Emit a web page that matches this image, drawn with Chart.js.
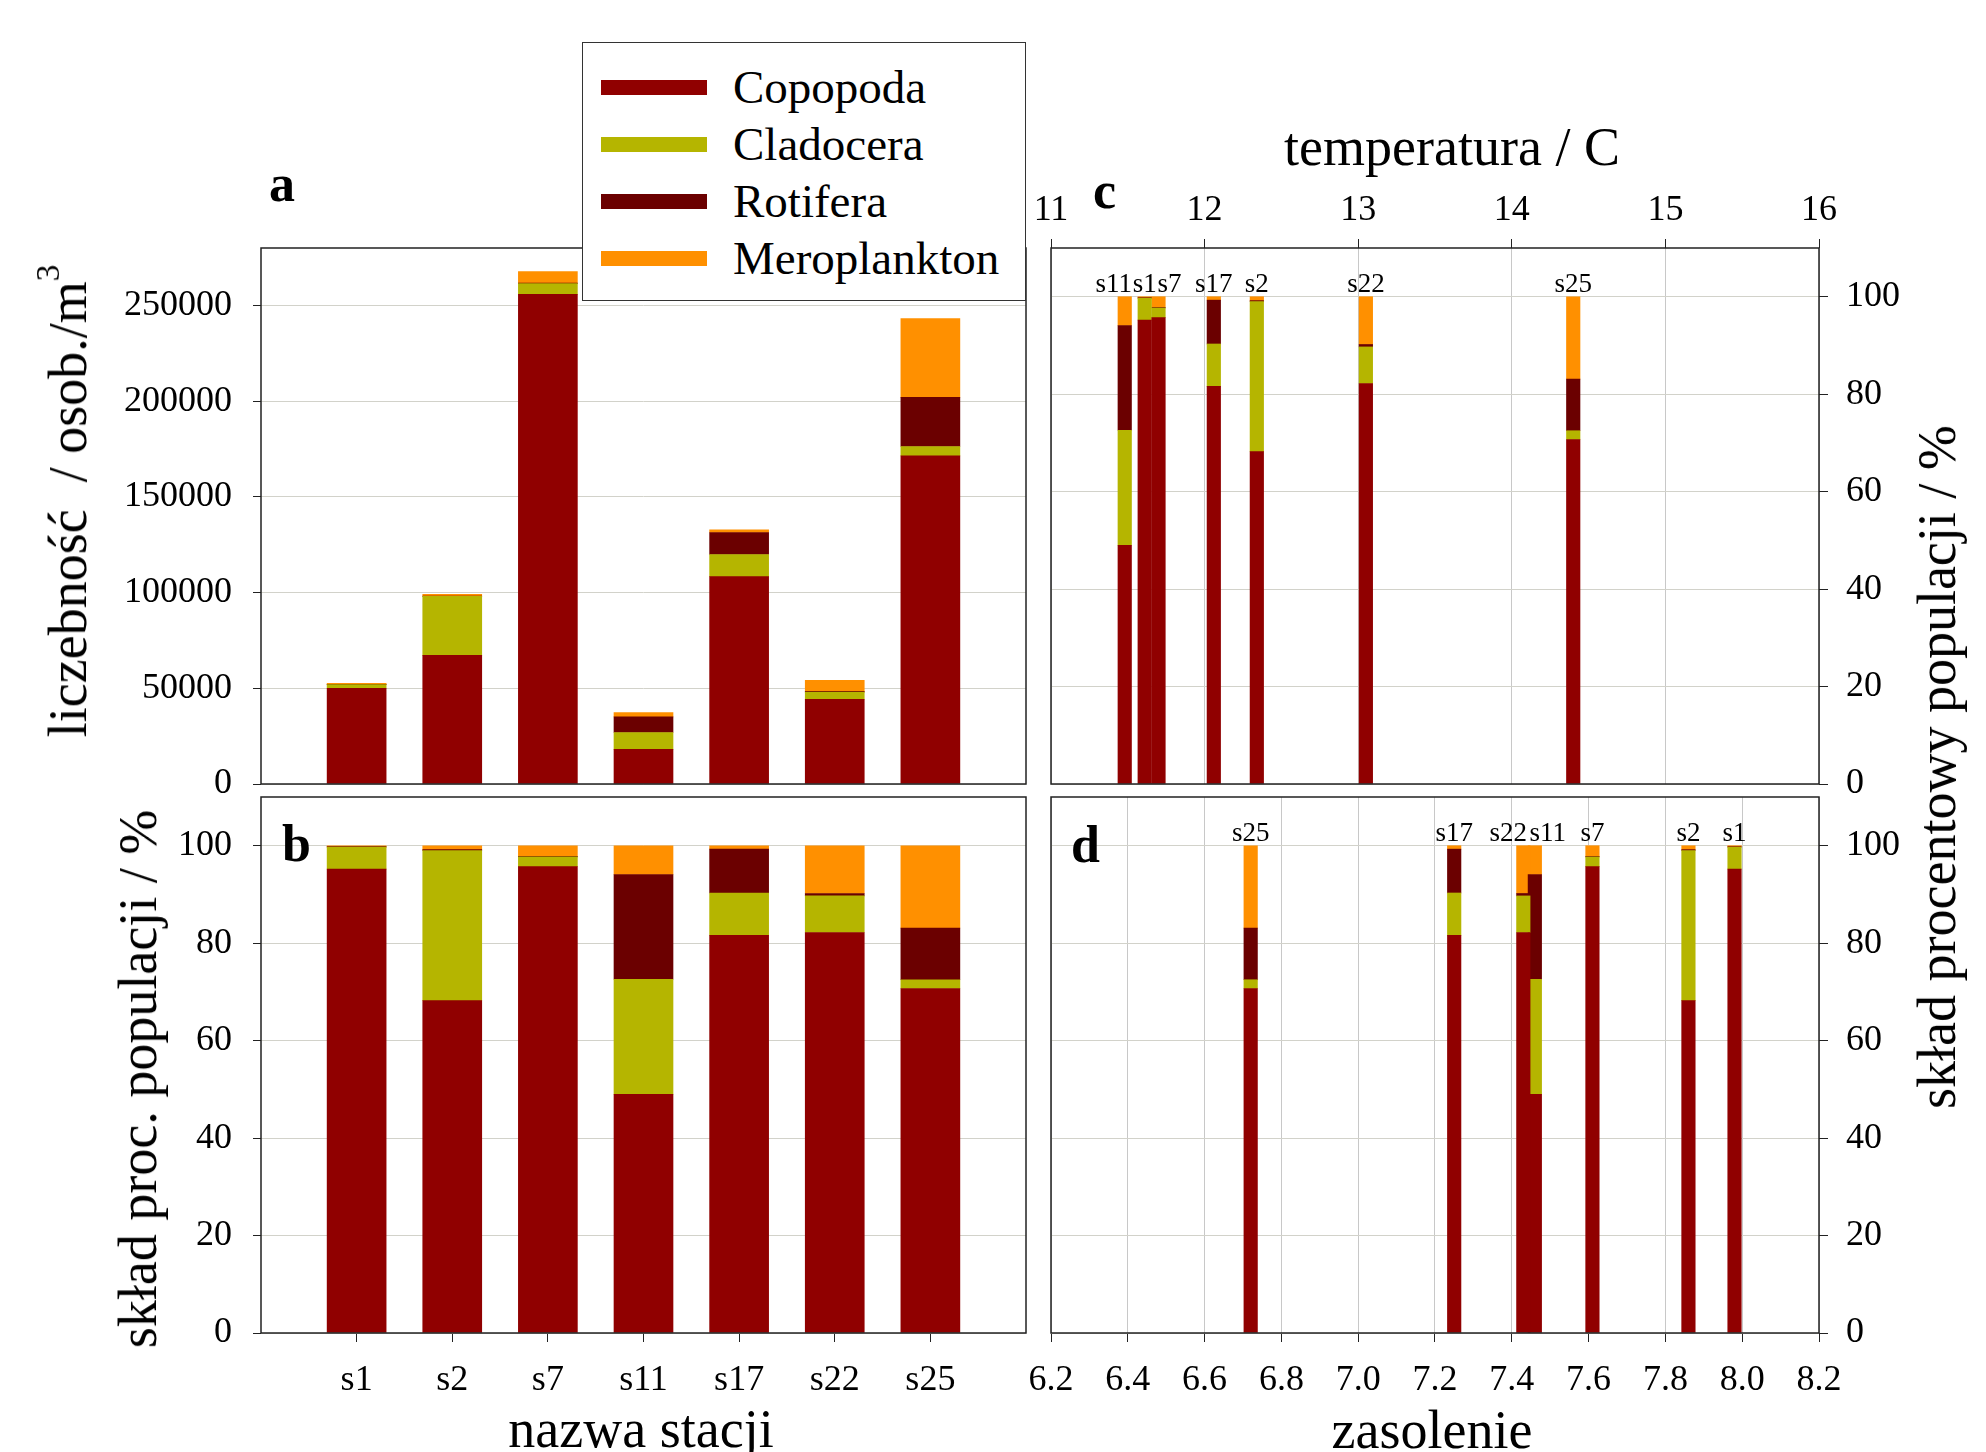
<!DOCTYPE html>
<html>
<head>
<meta charset="utf-8">
<script src="https://cdn.jsdelivr.net/npm/chart.js@4.4.0/dist/chart.umd.min.js"></script>
<style>
  html, body { margin: 0; padding: 0; background: #fff; }
  #fig { position: relative; width: 1986px; height: 1452px; overflow: hidden; font-family: "Liberation Serif", "Times New Roman", serif; color: #000; }
  #fig canvas { position: absolute; left: 0; top: 0; }
  .txt { position: absolute; line-height: 1; white-space: nowrap; z-index: 2; }
  .title { font-size: 54px; }
  .letter { font-size: 52px; font-weight: bold; }
  .vert { transform: translate(-50%, -50%) rotate(-90deg); }
  .hc { transform: translateX(-50%); }
  #legend { position: absolute; left: 582px; top: 42px; width: 444px; height: 259px; box-sizing: border-box; border: 1.5px solid #333; background: #fff; z-index: 3; }
  #legend .sw { position: absolute; left: 18px; width: 106px; height: 15px; }
  #legend .lb { position: absolute; left: 150px; font-size: 47px; line-height: 1; white-space: nowrap; }
</style>
</head>
<body>
<div id="fig">
  <canvas id="cA" width="1986" height="1452"></canvas>
  <canvas id="cB" width="1986" height="1452"></canvas>
  <canvas id="cC" width="1986" height="1452"></canvas>
  <canvas id="cD" width="1986" height="1452"></canvas>

  <div class="txt letter" style="left:269px; top:158px;">a</div>
  <div class="txt letter" style="left:282px; top:818px;">b</div>
  <div class="txt letter" style="left:1093px; top:165px;">c</div>
  <div class="txt letter" style="left:1071px; top:819px;">d</div>

  <div class="txt title vert" style="left:68px; top:501px;">liczebność&nbsp; / osob./m<span style="font-size:0.62em; position:relative; top:-0.8em;">3</span></div>
  <div class="txt title vert" style="left:138px; top:1079px;">skład proc. populacji / %</div>
  <div class="txt title vert" style="left:1937px; top:767px;">skład procentowy populacji / %</div>
  <div class="txt title hc" style="left:1452px; top:120px;">temperatura / C</div>
  <div class="txt title hc" style="left:641px; top:1402px;">nazwa stacji</div>
  <div class="txt title hc" style="left:1432px; top:1403px;">zasolenie</div>

  <div id="legend"></div>
</div>
<script>
// stations, in order of the x axis of panels a and b
const stations = ['s1', 's2', 's7', 's11', 's17', 's22', 's25'];
const seriesNames = ['Copopoda', 'Cladocera', 'Rotifera', 'Meroplankton'];
const seriesColors = ['#900000', '#b5b500', '#6b0000', '#ff9000'];

// panel a: liczebność [osob./m3]
const copepoda     = [50000, 67200, 255800, 18100, 108300, 44250, 171400];
const cladocera    = [1900, 30800, 5600, 8800, 11600, 3750, 4900];
const rotifera     = [200, 200, 300, 8200, 11500, 400, 25700];
const meroplankton = [500, 900, 6000, 2200, 1400, 5750, 41100];
const countTicks   = [0, 50000, 100000, 150000, 200000, 250000];

// panels b, c, d: skład procentowy [%]
const copepodaPct     = [95.2, 68.2, 95.7, 49.0, 81.6, 82.2, 70.7];
const cladoceraPct    = [4.5, 30.8, 2.0, 23.6, 8.7, 7.5, 1.8];
const rotiferaPct     = [0.1, 0.2, 0.1, 21.5, 9.0, 0.5, 10.6];
const meroplanktonPct = [0.2, 0.8, 2.2, 5.9, 0.7, 9.8, 16.9];

// station temperature [C] and salinity
const temperature = [11.61, 12.34, 11.70, 11.48, 12.06, 13.05, 14.40];
const salinity    = [7.98, 7.86, 7.61, 7.46, 7.25, 7.43, 6.72];

const serif = '"Liberation Serif", "Times New Roman", serif';
Chart.defaults.font.family = serif;
Chart.defaults.color = '#000';
const tickFont = { family: serif, size: 36 };
const gridGrey = '#d2d2ca';
const axisDark = '#222';

// legend (html)
const legend = document.getElementById('legend');
seriesNames.forEach((name, k) => {
  const cy = 44 + k * 57;
  const sw = document.createElement('div');
  sw.className = 'sw';
  sw.style.top = (cy - 7.5) + 'px';
  sw.style.background = seriesColors[k];
  legend.appendChild(sw);
  const lb = document.createElement('div');
  lb.className = 'lb';
  lb.style.top = (cy - 23) + 'px';
  lb.textContent = name;
  legend.appendChild(lb);
});

// box round each plot area
const framePlugin = {
  id: 'frame',
  afterDatasetsDraw(chart) {
    const { ctx, chartArea: a } = chart;
    ctx.save();
    ctx.strokeStyle = axisDark;
    ctx.lineWidth = 1.5;
    ctx.strokeRect(a.left, a.top, a.right - a.left, a.bottom - a.top);
    ctx.restore();
  }
};

// station names above the bars of panels c and d
const stationLabels = {
  id: 'stationLabels',
  afterDatasetsDraw(chart, args, opts) {
    if (!opts.positions) return;
    const { ctx, scales: { x, y } } = chart;
    ctx.save();
    ctx.font = '27px ' + serif;
    ctx.fillStyle = '#000';
    ctx.textAlign = 'center';
    stations.forEach((s, i) => {
      const px = x.getPixelForValue(opts.positions[i]) + (opts.nudge[s] || 0);
      ctx.fillText(s, px, y.getPixelForValue(100) - 5);
    });
    ctx.restore();
  }
};

function categorySets(arrays) {
  return seriesNames.map((name, k) => ({
    label: name,
    data: [null, ...arrays[k], null],
    backgroundColor: seriesColors[k],
    borderWidth: 0,
    barThickness: 59
  }));
}

function positionSets(arrays, xs) {
  return seriesNames.map((name, k) => ({
    label: name,
    data: stations.map((s, i) => ({ x: xs[i], y: arrays[k][i] })),
    backgroundColor: seriesColors[k],
    borderWidth: 0,
    barThickness: 13.5
  }));
}

const pctArrays = [copepodaPct, cladoceraPct, rotiferaPct, meroplanktonPct];
const base = { responsive: false, animation: false, events: [] };
const noLegend = { legend: { display: false }, tooltip: { enabled: false } };

// a
new Chart(document.getElementById('cA'), {
  type: 'bar',
  data: { labels: ['', ...stations, ''], datasets: categorySets([copepoda, cladocera, rotifera, meroplankton]) },
  options: {
    ...base,
    layout: { padding: { left: 0, top: 248, right: 960, bottom: 668 } },
    plugins: noLegend,
    scales: {
      x: { stacked: true, offset: false, display: false },
      y: {
        stacked: true, min: 0, max: 280000,
        afterBuildTicks: s => { s.ticks = countTicks.map(v => ({ value: v })); },
        ticks: { font: tickFont, padding: 21, callback: v => String(v) },
        grid: { color: gridGrey, tickColor: axisDark, tickLength: 8 },
        border: { display: false },
        afterFit: s => { s.width = 261; }
      }
    }
  },
  plugins: [framePlugin]
});

// b
new Chart(document.getElementById('cB'), {
  type: 'bar',
  data: { labels: ['', ...stations, ''], datasets: categorySets(pctArrays) },
  options: {
    ...base,
    layout: { padding: { left: 0, top: 797, right: 960, bottom: 19 } },
    plugins: noLegend,
    scales: {
      x: {
        stacked: true, offset: false,
        ticks: { font: tickFont, padding: 17, maxRotation: 0, autoSkip: false },
        grid: {
          offset: false, drawOnChartArea: false, tickLength: 9,
          tickColor: c => (c.index === 0 || c.index === stations.length + 1) ? 'rgba(0,0,0,0)' : axisDark
        },
        border: { display: false },
        afterFit: s => { s.height = 100; }
      },
      y: {
        stacked: true, min: 0, max: 110,
        ticks: { stepSize: 20, includeBounds: false, font: tickFont, padding: 21 },
        grid: { color: gridGrey, tickColor: axisDark, tickLength: 8 },
        border: { display: false },
        afterFit: s => { s.width = 261; }
      }
    }
  },
  plugins: [framePlugin]
});

// c
new Chart(document.getElementById('cC'), {
  type: 'bar',
  data: { datasets: positionSets(pctArrays, temperature) },
  options: {
    ...base,
    layout: { padding: { left: 1051, top: 188, right: 67, bottom: 668 } },
    plugins: { ...noLegend, stationLabels: { positions: temperature, nudge: { s11: -11, s7: 11 } } },
    scales: {
      x: {
        type: 'linear', position: 'top', stacked: true, offset: false, min: 11, max: 16,
        ticks: { stepSize: 1, font: tickFont, padding: 7, maxRotation: 0 },
        grid: { color: '#c8c8c8', tickColor: axisDark, tickLength: 9, offset: false },
        border: { display: false },
        afterFit: s => { s.height = 60; }
      },
      y: {
        position: 'right', stacked: true, min: 0, max: 110,
        ticks: { stepSize: 20, includeBounds: false, font: tickFont, padding: 18 },
        grid: { color: gridGrey, tickColor: axisDark, tickLength: 9 },
        border: { display: false },
        afterFit: s => { s.width = 100; }
      }
    }
  },
  plugins: [framePlugin, stationLabels]
});

// d
new Chart(document.getElementById('cD'), {
  type: 'bar',
  data: { datasets: positionSets(pctArrays, salinity) },
  options: {
    ...base,
    layout: { padding: { left: 1051, top: 797, right: 67, bottom: 19 } },
    plugins: { ...noLegend, stationLabels: { positions: salinity, nudge: { s22: -15, s11: 13 } } },
    scales: {
      x: {
        type: 'linear', position: 'bottom', stacked: true, offset: false, min: 6.2, max: 8.2,
        ticks: { stepSize: 0.2, font: tickFont, padding: 17, maxRotation: 0, autoSkip: false, callback: v => Number(v).toFixed(1) },
        grid: { color: '#c8c8c8', tickColor: axisDark, tickLength: 9, offset: false },
        border: { display: false },
        afterFit: s => { s.height = 100; }
      },
      y: {
        position: 'right', stacked: true, min: 0, max: 110,
        ticks: { stepSize: 20, includeBounds: false, font: tickFont, padding: 18 },
        grid: { color: gridGrey, tickColor: axisDark, tickLength: 9 },
        border: { display: false },
        afterFit: s => { s.width = 100; }
      }
    }
  },
  plugins: [framePlugin, stationLabels]
});
</script>
</body>
</html>
